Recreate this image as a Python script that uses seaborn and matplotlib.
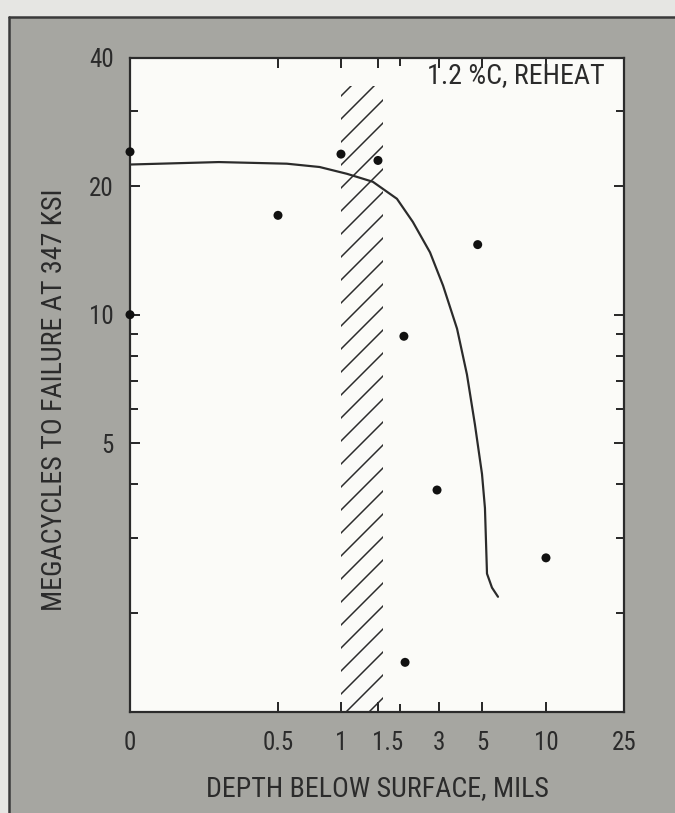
import numpy as np
import pandas as pd
import seaborn as sns
import matplotlib.pyplot as plt
import matplotlib.transforms as mtransforms
from matplotlib.patches import Rectangle
from matplotlib.lines import Line2D

# data
POINT_DEPTH = [0.0, 0.0, 0.5, 1.0, 1.5, 4.8, 2.1, 2.95, 10.0, 2.13]
POINT_CYCLES = [24.1, 10.0, 17.1, 23.8, 23.0, 14.6, 8.9, 3.88, 2.69, 1.53]

CURVE_DEPTH = [0.0, 0.30, 0.57, 0.83, 1.08, 1.43, 1.93, 2.33, 2.77, 3.19,
               3.84, 4.30, 4.67, 5.0, 5.23, 5.31, 5.39, 5.78, 6.25]
CURVE_CYCLES = [22.5, 22.8, 22.6, 22.2, 21.4, 20.5, 18.7, 16.5, 14.0, 11.7,
                9.27, 7.24, 5.53, 4.23, 3.52, 2.95, 2.47, 2.29, 2.18]

HATCH_DEPTH = [1.0, 1.61]
HATCH_LOW = 1.17
HATCH_HIGH = 34.4

X_TICKS = [0, 0.5, 1, 1.5, 3, 5, 10, 25]
X_TICK_LABELS = ['0', '0.5', '1', '1.5', '3', '5', '10', '25']
X_MINOR = [2]
Y_TICKS = [5, 10, 20, 40]
Y_TICK_LABELS = ['5', '10', '20', '40']
Y_MINOR = [2, 3, 4, 6, 7, 8, 9, 30]

# hand-drawn depth axis: piecewise positions of the knots along the axis
X_KNOTS = [0, 0.5, 1, 1.5, 2, 3, 5, 10, 25]
X_FRAC = [0, 0.2996, 0.4271, 0.502, 0.5466, 0.6255, 0.7126, 0.8421, 1.0]


def fwd(x):
    return np.interp(x, X_KNOTS, X_FRAC)


def inv(f):
    return np.interp(f, X_FRAC, X_KNOTS)


DPI = 138  # gives the hatch spacing of the original


def px(v):
    # pixel size -> points
    return v * 72.0 / DPI


INK = '#2b2b2b'
BG = '#a6a6a1'

sns.set_style('ticks')
plt.rcParams['font.family'] = ['Roboto Condensed', 'PT Sans Narrow',
                               'Archivo Narrow', 'DejaVu Sans']
plt.rcParams['hatch.linewidth'] = px(1.5)

fig = plt.figure(figsize=(675 / DPI, 813 / DPI), dpi=DPI, facecolor=BG)
ax = fig.add_axes([0.1926, 0.1242, 0.7318, 0.8045])
ax.set_facecolor('#fbfbf8')

# page edge at top and left
fig.add_artist(Rectangle((0, 0.979), 1, 0.021, transform=fig.transFigure,
                         color='#e6e6e3', zorder=-5))
fig.add_artist(Rectangle((0, 0), 0.0133, 1, transform=fig.transFigure,
                         color='#e6e6e3', zorder=-5))
fig.add_artist(Line2D([0.0133, 1], [0.979, 0.979], transform=fig.transFigure,
                      color='#3a3a3a', lw=px(2.5)))
fig.add_artist(Line2D([0.0133, 0.0133], [0, 0.979], transform=fig.transFigure,
                      color='#3a3a3a', lw=px(2.5)))

ax.set_xscale('function', functions=(fwd, inv))
ax.set_yscale('log')

ax.fill_between(HATCH_DEPTH, HATCH_LOW, HATCH_HIGH, facecolor='none',
                edgecolor=INK, hatch='//', linewidth=0, zorder=1)

curve = pd.DataFrame({'depth': CURVE_DEPTH, 'cycles': CURVE_CYCLES})
pts = pd.DataFrame({'depth': POINT_DEPTH, 'cycles': POINT_CYCLES})

sns.lineplot(data=curve, x='depth', y='cycles', sort=False, estimator=None,
             color=INK, linewidth=px(2.2), ax=ax, zorder=3)
sns.scatterplot(data=pts, x='depth', y='cycles', color='#111111',
                s=px(9) ** 2, edgecolor='none', ax=ax, zorder=4, clip_on=False)

ax.set_xlim(0, 25)
ax.set_ylim(1.17, 40)

ax.set_xticks(X_TICKS)
ax.set_xticklabels(X_TICK_LABELS)
ax.set_xticks(X_MINOR, minor=True)
ax.set_yticks(Y_TICKS)
ax.set_yticklabels(Y_TICK_LABELS)
ax.set_yticks(Y_MINOR, minor=True)
ax.yaxis.set_minor_formatter(plt.NullFormatter())

ax.tick_params(axis='both', which='both', direction='in', top=True,
               right=True, color=INK, width=px(2), labelcolor=INK)
ax.tick_params(axis='both', which='major', length=px(10), labelsize=px(25))
ax.tick_params(axis='both', which='minor', length=px(8))
ax.tick_params(axis='x', which='major', pad=px(19))
ax.tick_params(axis='y', which='major', pad=px(16))

# the "1.5" label sits a little right of its tick in the original
nudge = mtransforms.ScaledTranslation(px(10) / 72, 0, fig.dpi_scale_trans)
lab = ax.get_xticklabels()[3]
lab.set_transform(lab.get_transform() + nudge)

for sp in ax.spines.values():
    sp.set_color(INK)
    sp.set_linewidth(px(2.2))

ax.set_xlabel('DEPTH BELOW SURFACE, MILS', fontsize=px(28), color=INK)
ax.set_ylabel('MEGACYCLES TO FAILURE AT 347 KSI', fontsize=px(28), color=INK)
ax.xaxis.set_label_coords(0.5, -0.096)
ax.yaxis.set_label_coords(-0.125, 0.477)

ax.text(0.9615, 0.973, '1.2 %C, REHEAT', transform=ax.transAxes,
        ha='right', va='center', fontsize=px(28), color=INK)

fig.savefig('out.png', dpi=DPI, facecolor=BG)
